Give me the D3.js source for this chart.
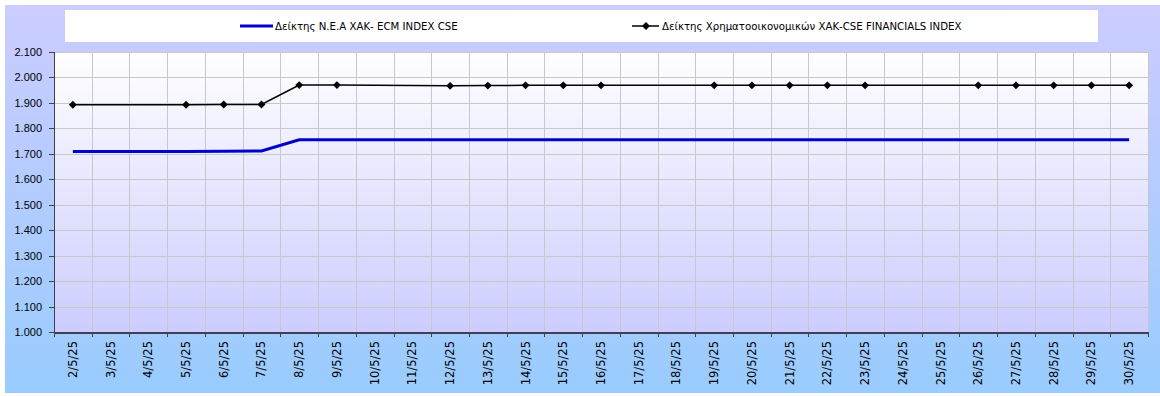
<!DOCTYPE html>
<html lang="el">
<head>
<meta charset="UTF-8">
<title>Δείκτες ΧΑΚ</title>
<script src="https://cdnjs.cloudflare.com/ajax/libs/d3/7.8.5/d3.min.js"></script>
<style>
    body { margin: 0; background: #fff; }
    svg { display: block; font-family: "DejaVu Sans", Verdana, sans-serif; }
    .grid line { stroke: #c8c8c8; stroke-width: 1; shape-rendering: crispEdges; }
    .grid path { stroke: none; }
    .axis path, .axis line { stroke: #404050; shape-rendering: crispEdges; }
    .axis text { fill: #000; font-size: 11px; }
</style>
</head>
<body>
<div id="chart"></div>
<script>
    // Dates (categories), all calendar days of the period
    const days = ["2/5/25","3/5/25","4/5/25","5/5/25","6/5/25","7/5/25","8/5/25","9/5/25","10/5/25",
        "11/5/25","12/5/25","13/5/25","14/5/25","15/5/25","16/5/25","17/5/25","18/5/25","19/5/25",
        "20/5/25","21/5/25","22/5/25","23/5/25","24/5/25","25/5/25","26/5/25","27/5/25","28/5/25",
        "29/5/25","30/5/25"];

    // Trading days with values
    const tradeDays = ["2/5/25","5/5/25","6/5/25","7/5/25","8/5/25","9/5/25","12/5/25","13/5/25",
        "14/5/25","15/5/25","16/5/25","19/5/25","20/5/25","21/5/25","22/5/25","23/5/25","26/5/25",
        "27/5/25","28/5/25","29/5/25","30/5/25"];

    const ecmValues = [1.709,1.709,1.710,1.711,1.755,1.755,1.755,1.755,1.755,1.755,1.755,
        1.755,1.755,1.755,1.755,1.755,1.755,1.755,1.755,1.755,1.755];

    const finValues = [1.893,1.893,1.894,1.894,1.970,1.970,1.967,1.968,1.969,1.969,1.969,
        1.969,1.969,1.969,1.969,1.969,1.969,1.969,1.969,1.969,1.969];

    const yTicks = [1.0,1.1,1.2,1.3,1.4,1.5,1.6,1.7,1.8,1.9,2.0,2.1];

    const seriesNames = ["Δείκτης Ν.Ε.Α ΧΑΚ- ECM INDEX CSE",
        "Δείκτης Χρηματοοικονομικών ΧΑΚ-CSE FINANCIALS INDEX"];

    const W = 1160, H = 396;
    const plot = {left: 54, right: 1148, top: 52, bottom: 332};

    const svg = d3.select("#chart").append("svg")
        .attr("width", W).attr("height", H);

    const defs = svg.append("defs");
    const outerGrad = defs.append("linearGradient").attr("id", "outerGrad")
        .attr("x1", 0).attr("y1", 0).attr("x2", 0).attr("y2", 1);
    outerGrad.append("stop").attr("offset", "0%").attr("stop-color", "#ccccff");
    outerGrad.append("stop").attr("offset", "100%").attr("stop-color", "#99ccff");

    const plotGrad = defs.append("linearGradient").attr("id", "plotGrad")
        .attr("x1", 0).attr("y1", 0).attr("x2", 0).attr("y2", 1);
    plotGrad.append("stop").attr("offset", "0%").attr("stop-color", "#ffffff");
    plotGrad.append("stop").attr("offset", "100%").attr("stop-color", "#ccccff");

    // Chart background
    svg.append("rect")
        .attr("x", 5).attr("y", 5).attr("width", W - 5).attr("height", H - 8)
        .attr("fill", "url(#outerGrad)");

    // Scales
    const x = d3.scaleBand().domain(days).range([plot.left, plot.right]).padding(0);
    const y = d3.scaleLinear().domain([1.0, 2.1]).range([plot.bottom, plot.top]);
    const cx = d => x(d) + x.bandwidth() / 2;

    // Plot area
    svg.append("rect")
        .attr("x", plot.left).attr("y", plot.top)
        .attr("width", plot.right - plot.left).attr("height", plot.bottom - plot.top)
        .attr("fill", "url(#plotGrad)");

    // Horizontal grid
    svg.append("g")
        .attr("class", "grid")
        .attr("transform", `translate(${plot.left},0)`)
        .call(d3.axisLeft(y).tickValues(yTicks).tickSize(-(plot.right - plot.left)).tickFormat(""));

    // Vertical grid at category boundaries
    const bounds = days.map(d => x(d)).concat([plot.right]);
    svg.append("g")
        .attr("class", "grid")
        .selectAll("line")
        .data(bounds.slice(1))
        .join("line")
        .attr("x1", d => Math.round(d) + 0.5).attr("x2", d => Math.round(d) + 0.5)
        .attr("y1", plot.top).attr("y2", plot.bottom);

    // Y axis
    svg.append("g")
        .attr("class", "axis")
        .attr("transform", `translate(${plot.left},0)`)
        .call(d3.axisLeft(y).tickValues(yTicks).tickSize(5).tickPadding(7).tickFormat(d3.format(".3f")))
        .call(g => g.select(".domain").attr("d", `M0.5,${plot.top}V${plot.bottom}`));

    // X axis: ticks at boundaries, labels at centres
    const xAxis = svg.append("g").attr("class", "axis");
    xAxis.append("line")
        .attr("x1", plot.left).attr("x2", plot.right)
        .attr("y1", plot.bottom + 0.5).attr("y2", plot.bottom + 0.5)
        .attr("stroke-width", 2);
    xAxis.selectAll("line.tick")
        .data(bounds)
        .join("line")
        .attr("class", "tick")
        .attr("x1", d => Math.round(d) + 0.5).attr("x2", d => Math.round(d) + 0.5)
        .attr("y1", plot.bottom).attr("y2", plot.bottom + 5);
    xAxis.selectAll("text")
        .data(days)
        .join("text")
        .attr("transform", d => `translate(${cx(d) + 4},${plot.bottom + 9}) rotate(-90)`)
        .attr("text-anchor", "end")
        .style("font-size", "11.5px")
        .text(d => d);

    // Lines
    const lineGen = d3.line()
        .x((d, i) => cx(tradeDays[i]))
        .y(d => y(d));

    svg.append("path")
        .datum(ecmValues)
        .attr("fill", "none")
        .attr("stroke", "#0000cc")
        .attr("stroke-width", 3)
        .attr("d", lineGen);

    svg.append("path")
        .datum(finValues)
        .attr("fill", "none")
        .attr("stroke", "#000")
        .attr("stroke-width", 1.5)
        .attr("d", lineGen);

    const diamond = d3.symbol().type(d3.symbolDiamond2).size(40);
    svg.append("g")
        .selectAll("path")
        .data(finValues)
        .join("path")
        .attr("transform", (d, i) => `translate(${cx(tradeDays[i])},${y(d)})`)
        .attr("d", diamond)
        .attr("fill", "#000");

    // Legend
    svg.append("rect")
        .attr("x", 65).attr("y", 10).attr("width", 1033).attr("height", 32)
        .attr("fill", "#fff");

    const leg = svg.append("g").attr("font-size", "10.2px");
    leg.append("line")
        .attr("x1", 240).attr("x2", 273).attr("y1", 26).attr("y2", 26)
        .attr("stroke", "#0000cc").attr("stroke-width", 3);
    leg.append("text").attr("x", 275).attr("y", 30).text(seriesNames[0]);

    leg.append("line")
        .attr("x1", 632).attr("x2", 659).attr("y1", 26).attr("y2", 26)
        .attr("stroke", "#000").attr("stroke-width", 1.5);
    leg.append("path")
        .attr("transform", "translate(646,26)")
        .attr("d", diamond)
        .attr("fill", "#000");
    leg.append("text").attr("x", 662).attr("y", 30).text(seriesNames[1]);
</script>
</body>
</html>
